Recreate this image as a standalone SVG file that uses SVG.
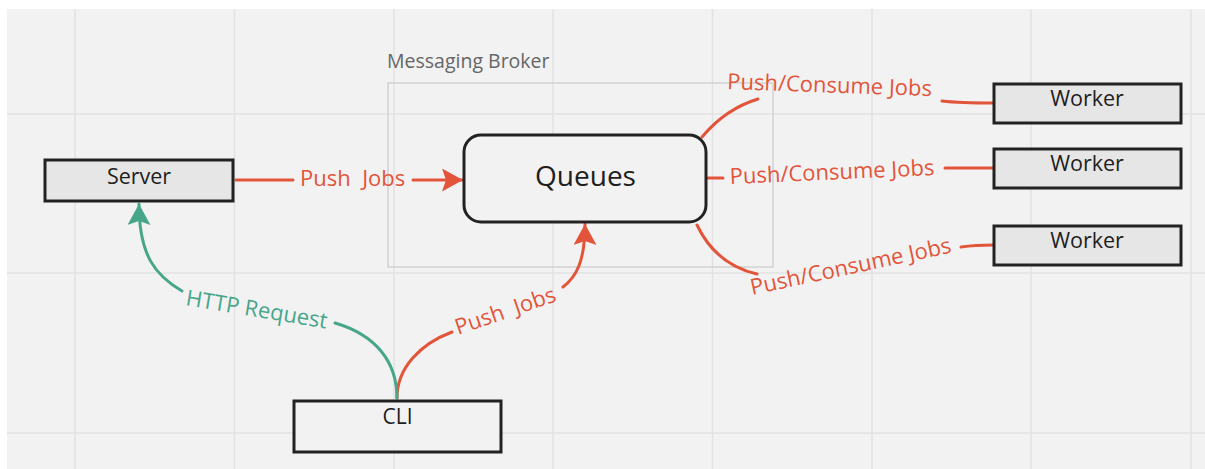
<svg xmlns="http://www.w3.org/2000/svg" width="1205" height="469" viewBox="0 0 1205 469">
  <style>
    .grid { stroke: #e2e2e2; stroke-width: 1.5; }
    .node { stroke: #222; stroke-width: 3; }
    .box { fill: #e6e6e6; }
    .plain { fill: #f2f2f2; }
    .label { font-family: "Open Sans", "Liberation Sans", sans-serif; fill: #1e1e1e; text-anchor: middle; }
    .conn { fill: none; stroke-width: 3; stroke-linecap: round; }
    .orange { stroke: #e2553a; }
    .teal { stroke: #47a68a; }
    .ctext { font-family: "Open Sans", "Liberation Sans", sans-serif; font-size: 22px; }
    .otext { fill: #e2553a; }
    .ttext { fill: #47a68a; }
  </style>
  <defs>
    <marker id="arrowOrange" markerUnits="userSpaceOnUse" markerWidth="22" markerHeight="24" refX="21" refY="11.5" orient="auto">
      <path d="M0,0 L21,11.5 L0,23 L4,11.5 z" fill="#e2553a"/>
    </marker>
    <marker id="arrowTeal" markerUnits="userSpaceOnUse" markerWidth="22" markerHeight="24" refX="21" refY="11.5" orient="auto">
      <path d="M0,0 L21,11.5 L0,23 L4,11.5 z" fill="#47a68a"/>
    </marker>
  </defs>

  <!-- canvas -->
  <rect x="0" y="0" width="1205" height="469" fill="#ffffff"/>
  <rect x="7" y="9" width="1198" height="460" fill="#f2f2f2"/>
  <g id="grid" class="grid">
    <line x1="75" y1="9" x2="75" y2="469"/>
    <line x1="234.5" y1="9" x2="234.5" y2="469"/>
    <line x1="394" y1="9" x2="394" y2="469"/>
    <line x1="553" y1="9" x2="553" y2="469"/>
    <line x1="712.5" y1="9" x2="712.5" y2="469"/>
    <line x1="872" y1="9" x2="872" y2="469"/>
    <line x1="1031" y1="9" x2="1031" y2="469"/>
    <line x1="1191" y1="9" x2="1191" y2="469"/>
    <line x1="7" y1="114" x2="1205" y2="114"/>
    <line x1="7" y1="273" x2="1205" y2="273"/>
    <line x1="7" y1="433" x2="1205" y2="433"/>
  </g>

  <!-- broker frame -->
  <g id="broker">
    <rect x="388" y="83" width="385" height="184" fill="none" stroke="#d2d2d2" stroke-width="1.5"/>
    <text x="387" y="68" font-family="'Open Sans', 'Liberation Sans', sans-serif" font-size="19.5" fill="#666">Messaging Broker</text>
  </g>

  <!-- connectors -->
  <g id="connectors">
    <path class="conn orange" d="M236,180 H293"/>
    <path class="conn orange" d="M413,180 H463" marker-end="url(#arrowOrange)"/>
    <text class="ctext otext" x="300" y="186" font-size="21" xml:space="preserve">Push  Jobs</text>

    <path class="conn orange" d="M397,398 C397,368 420,344 452,332"/>
    <text class="ctext otext" transform="translate(458,335) rotate(-19)" font-size="21" xml:space="preserve">Push  Jobs</text>
    <path class="conn orange" d="M563,287 C576,277 585,262 585,224" marker-end="url(#arrowOrange)"/>

    <path class="conn teal" d="M397,398 C397,362 376,335 335,323"/>
    <text class="ctext ttext" transform="translate(185,305) rotate(9.5)" font-size="21">HTTP Request</text>
    <path class="conn teal" d="M182,291 C156,276 139,256 139,204" marker-end="url(#arrowTeal)"/>

    <path class="conn orange" d="M702,137 C718,118 738,105 758,99"/>
    <text class="ctext otext" transform="translate(727,89) rotate(2)">Push/Consume Jobs</text>
    <path class="conn orange" d="M942,101 C960,103 975,103 993,103"/>

    <path class="conn orange" d="M708,178 H723"/>
    <text class="ctext otext" transform="translate(730,184) rotate(-2.5)">Push/Consume Jobs</text>
    <path class="conn orange" d="M945,168 H993"/>

    <path class="conn orange" d="M697,225 C710,252 730,268 757,274"/>
    <text class="ctext otext" transform="translate(752,295) rotate(-12)">Push/Consume Jobs</text>
    <path class="conn orange" d="M961,247 C975,245 985,245 993,245"/>
  </g>

  <!-- nodes -->
  <g id="server">
    <rect class="node box" x="45" y="160" width="188" height="41"/>
    <text class="label" x="139" y="184" font-size="21.5">Server</text>
  </g>
  <g id="queues">
    <rect class="node plain" x="464" y="135" width="242" height="87" rx="17" ry="17"/>
    <text class="label" x="585.5" y="186" font-size="28">Queues</text>
  </g>
  <g id="worker-1">
    <rect class="node box" x="994" y="84" width="187" height="39"/>
    <text class="label" x="1087" y="106" font-size="21.5">Worker</text>
  </g>
  <g id="worker-2">
    <rect class="node box" x="994" y="149" width="187" height="39"/>
    <text class="label" x="1087" y="171" font-size="21.5">Worker</text>
  </g>
  <g id="worker-3">
    <rect class="node box" x="994" y="226" width="187" height="39"/>
    <text class="label" x="1087" y="248" font-size="21.5">Worker</text>
  </g>
  <g id="cli">
    <rect class="node plain" x="294" y="401" width="207" height="51"/>
    <text class="label" x="397.5" y="424" font-size="21">CLI</text>
  </g>
</svg>
